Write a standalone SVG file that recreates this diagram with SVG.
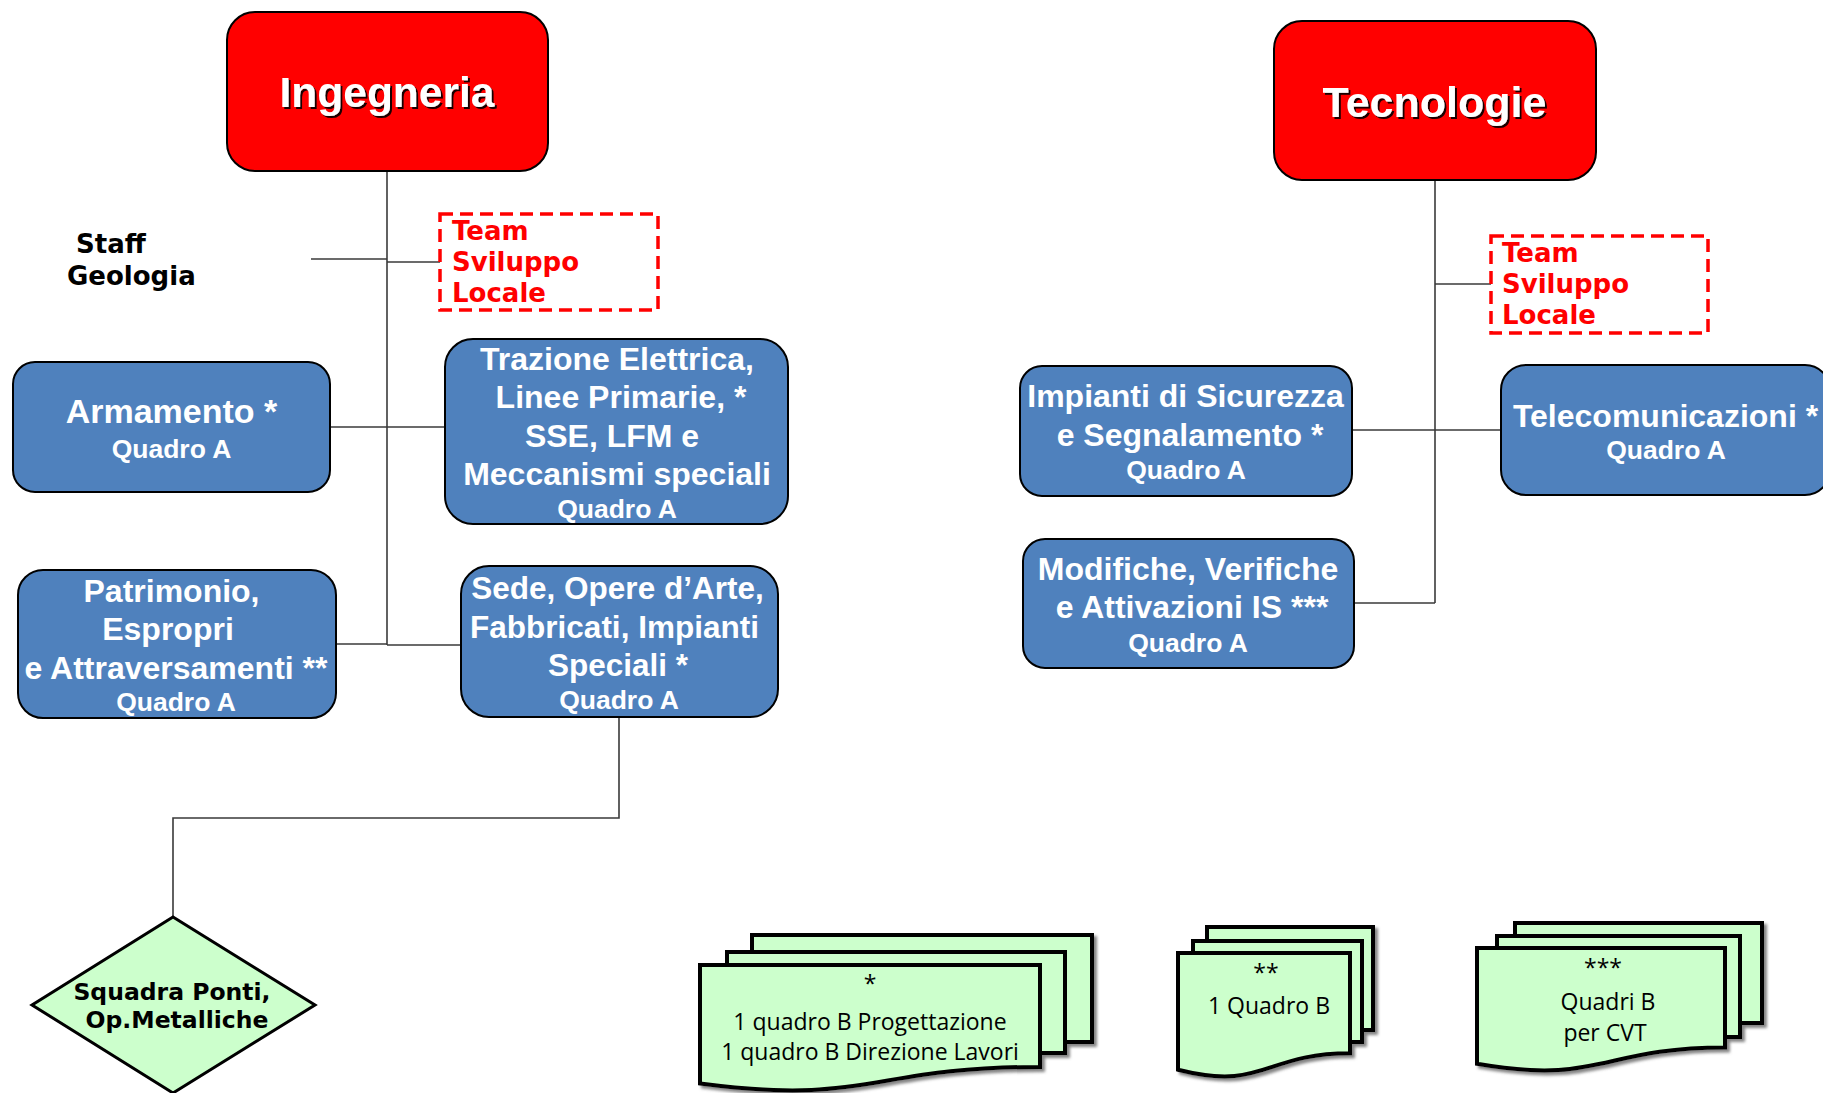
<svg xmlns="http://www.w3.org/2000/svg" width="1823" height="1093" viewBox="0 0 1823 1093">
<defs>
<style>
.head{fill:#FF0000;stroke:#000;stroke-width:2}
.unit{fill:#4F81BD;stroke:#000;stroke-width:2}
.team{fill:none;stroke:#FF0000;stroke-width:3.5;stroke-dasharray:13 7}
.conn{stroke:#3a3a3a;stroke-width:1.6;fill:none}
.ht{font-family:"Liberation Sans",Arial,sans-serif;font-weight:bold;font-size:42.5px;fill:#fff;text-anchor:middle}
.bt{font-family:"Liberation Sans",Arial,sans-serif;font-weight:bold;font-size:32px;fill:#fff;text-anchor:middle}
.q{font-size:26.5px}
.tt{font-family:"DejaVu Sans",Verdana,sans-serif;font-weight:bold;font-size:26px;fill:#FF0000}
.st{font-family:"DejaVu Sans",Verdana,sans-serif;font-weight:bold;font-size:26px;fill:#000}
.dm{fill:#CCFFCC;stroke:#000;stroke-width:3}
.dmt{font-family:"DejaVu Sans",Verdana,sans-serif;font-weight:bold;font-size:23.5px;fill:#000;text-anchor:middle}
.doc{fill:#CCFFCC;stroke:#000;stroke-width:4}
.dt{font-family:"Open Sans",sans-serif;font-size:23px;fill:#000;text-anchor:middle}
</style>
<filter id="ts" x="-5%" y="-20%" width="115%" height="150%"><feDropShadow dx="2" dy="2" stdDeviation="0.6" flood-color="#000" flood-opacity="0.9"/></filter>
<filter id="ds" x="-10%" y="-10%" width="130%" height="130%"><feDropShadow dx="3" dy="3" stdDeviation="1.5" flood-color="#666" flood-opacity="0.8"/></filter>
</defs>

<g id="connectors">
<path class="conn" d="M387,171 V645"/>
<path class="conn" d="M311,259 H387"/>
<path class="conn" d="M387,262 H440"/>
<path class="conn" d="M330,427 H445"/>
<path class="conn" d="M336,644 H387"/>
<path class="conn" d="M387,645 H461"/>
<path class="conn" d="M619,717 V818 H173 V917"/>
<path class="conn" d="M1435,180 V603"/>
<path class="conn" d="M1435,284 H1491"/>
<path class="conn" d="M1352,430 H1501"/>
<path class="conn" d="M1354,603 H1435"/>
</g>

<g id="ingegneria">
<rect class="head" x="227" y="12" width="321" height="159" rx="28"/>
<text class="ht" x="387" y="107" filter="url(#ts)">Ingegneria</text>
</g>

<g id="tecnologie">
<rect class="head" x="1274" y="21" width="322" height="159" rx="28"/>
<text class="ht" x="1434.5" y="117" filter="url(#ts)" style="font-size:43px">Tecnologie</text>
</g>

<g id="staff-geologia">
<text class="st" x="76" y="253">Staff</text>
<text class="st" x="67" y="285">Geologia</text>
</g>

<g id="team-ingegneria">
<rect class="team" x="440" y="214" width="218" height="96"/>
<text class="tt" x="452" y="240">Team</text>
<text class="tt" x="452" y="271">Sviluppo</text>
<text class="tt" x="452" y="302">Locale</text>
</g>

<g id="team-tecnologie">
<rect class="team" x="1491" y="236" width="217" height="97"/>
<text class="tt" x="1502" y="262">Team</text>
<text class="tt" x="1502" y="293">Sviluppo</text>
<text class="tt" x="1502" y="324">Locale</text>
</g>

<g id="armamento">
<rect class="unit" x="13" y="362" width="317" height="130" rx="22"/>
<text class="bt" x="171.5" y="423" style="font-size:34px">Armamento *</text>
<text class="bt q" x="171.5" y="458">Quadro A</text>
</g>

<g id="trazione">
<rect class="unit" x="445" y="339" width="343" height="185" rx="28"/>
<text class="bt" x="617" y="370">Trazione Elettrica,</text>
<text class="bt" x="621" y="408">Linee Primarie, *</text>
<text class="bt" x="612" y="447">SSE, LFM e</text>
<text class="bt" x="617" y="485">Meccanismi speciali</text>
<text class="bt q" x="617" y="518">Quadro A</text>
</g>

<g id="patrimonio">
<rect class="unit" x="18" y="570" width="318" height="148" rx="25"/>
<text class="bt" x="171.5" y="602">Patrimonio,</text>
<text class="bt" x="168" y="640">Espropri</text>
<text class="bt" x="176" y="679">e Attraversamenti **</text>
<text class="bt q" x="176" y="711">Quadro A</text>
</g>

<g id="sede">
<rect class="unit" x="461" y="566" width="317" height="151" rx="28"/>
<text class="bt" x="617.5" y="599" style="font-size:31.5px">Sede, Opere d’Arte,</text>
<text class="bt" x="614.5" y="638" style="font-size:31.5px">Fabbricati, Impianti</text>
<text class="bt" x="618" y="676" style="font-size:31.5px">Speciali *</text>
<text class="bt q" x="619" y="709">Quadro A</text>
</g>

<g id="squadra-ponti">
<polygon class="dm" points="173,917 315,1005 173,1093 32,1005"/>
<text class="dmt" x="172" y="1000">Squadra Ponti,</text>
<text class="dmt" x="177" y="1028">Op.Metalliche</text>
</g>

<g id="impianti">
<rect class="unit" x="1020" y="366" width="332" height="130" rx="22"/>
<text class="bt" x="1185.5" y="407">Impianti di Sicurezza</text>
<text class="bt" x="1190" y="446">e Segnalamento *</text>
<text class="bt q" x="1186" y="479">Quadro A</text>
</g>

<g id="telecomunicazioni">
<rect class="unit" x="1501" y="365" width="329" height="130" rx="25"/>
<text class="bt" x="1665.5" y="427">Telecomunicazioni *</text>
<text class="bt q" x="1666" y="459">Quadro A</text>
</g>

<g id="modifiche">
<rect class="unit" x="1023" y="539" width="331" height="129" rx="22"/>
<text class="bt" x="1188" y="580">Modifiche, Verifiche</text>
<text class="bt" x="1192" y="618">e Attivazioni IS ***</text>
<text class="bt q" x="1188" y="652">Quadro A</text>
</g>

<g id="note-1" filter="url(#ds)">
<rect class="doc" x="752" y="935" width="340" height="107"/>
<rect class="doc" x="727" y="952" width="338" height="101"/>
<path class="doc" d="M700,965 H1040 V1066.9 C870,1066.9 870,1105.7 700,1083.6 Z"/>
</g>
<g id="note-1-text">
<text class="dt" x="870" y="992">*</text>
<text class="dt" x="870" y="1030">1 quadro B Progettazione</text>
<text class="dt" x="870" y="1060">1 quadro B Direzione Lavori</text>
</g>

<g id="note-2" filter="url(#ds)">
<rect class="doc" x="1207" y="927" width="166" height="103"/>
<rect class="doc" x="1193" y="941" width="169" height="101"/>
<path class="doc" d="M1178,953 H1350 V1053.3 C1264,1053.3 1264,1091.4 1178,1069.8 Z"/>
</g>
<g id="note-2-text">
<text class="dt" x="1266" y="981">**</text>
<text class="dt" x="1269" y="1014">1 Quadro B</text>
</g>

<g id="note-3" filter="url(#ds)">
<rect class="doc" x="1515" y="923" width="247" height="100"/>
<rect class="doc" x="1497" y="936" width="243" height="101"/>
<path class="doc" d="M1477,948 H1725 V1047.4 C1601,1047.4 1601,1085.3 1477,1063.8 Z"/>
</g>
<g id="note-3-text">
<text class="dt" x="1603" y="976">***</text>
<text class="dt" x="1608" y="1010">Quadri B</text>
<text class="dt" x="1605" y="1041">per CVT</text>
</g>
</svg>
